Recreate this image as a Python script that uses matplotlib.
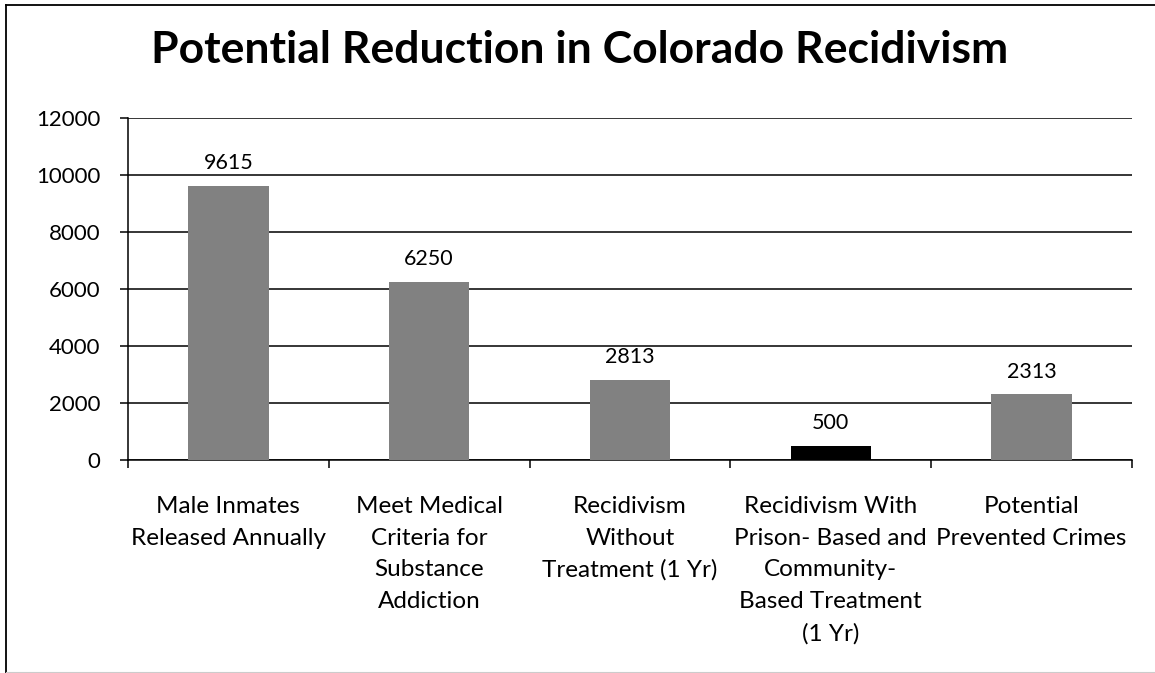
import matplotlib
matplotlib.use("Agg")
import matplotlib.pyplot as plt
from matplotlib.lines import Line2D

plt.rcParams['font.family'] = ['Lato', 'DejaVu Sans']

categories = [
    "Male Inmates\nReleased Annually",
    "Meet Medical\nCriteria for\nSubstance\nAddiction",
    "Recidivism\nWithout\nTreatment (1 Yr)",
    "Recidivism With\nPrison- Based and\nCommunity-\nBased Treatment\n(1 Yr)",
    "Potential\nPrevented Crimes",
]
values = [9615, 6250, 2813, 500, 2313]
bar_colors = ["#818181", "#818181", "#818181", "#000000", "#818181"]
y_ticks = [0, 2000, 4000, 6000, 8000, 10000, 12000]

fig = plt.figure(figsize=(11.55, 6.73), dpi=100)
ax = fig.add_axes([0.1108, 0.3165, 0.8692, 0.5082])

# chart frame edges (top and left)
fig.lines.append(Line2D([0.0055, 0.0055], [0.0, 0.9925], transform=fig.transFigure,
                        color="black", linewidth=1.3))
fig.lines.append(Line2D([0.0055, 1.0], [0.9925, 0.9925], transform=fig.transFigure,
                        color="black", linewidth=1.3))
fig.lines.append(Line2D([0.0055, 1.0], [0.0015, 0.0015], transform=fig.transFigure,
                        color="#cccccc", linewidth=0.8))

x = list(range(len(values)))
ax.bar(x, values, width=0.4, color=bar_colors, zorder=3)
for xi, v in zip(x, values):
    ax.annotate(str(v), (xi, v), xytext=(0, 9), textcoords="offset points",
                ha="center", va="bottom", fontsize=15.5, zorder=4)

ax.set_xlim(-0.5, len(values) - 0.5)
ax.set_ylim(0, 12000)
ax.set_yticks(y_ticks)
ax.set_yticklabels([str(t) for t in y_ticks], fontsize=16)
ax.yaxis.grid(True, color="black", linewidth=1.1, zorder=1)
ax.set_axisbelow(True)

ax.set_xticks([i + 0.5 for i in range(-1, len(values))])
ax.set_xticklabels([])
ax.set_xticks(x, minor=True)
ax.set_xticklabels(categories, minor=True, fontsize=17.5, linespacing=1.62, va="top")
ax.tick_params(axis="x", which="minor", length=0, pad=26)
ax.tick_params(axis="x", which="major", length=6, width=1.1, direction="out")
ax.tick_params(axis="y", length=6, width=1.1, direction="out", pad=14)

for side in ["top", "right"]:
    ax.spines[side].set_visible(False)
ax.spines["left"].set_linewidth(1.1)
ax.spines["bottom"].set_linewidth(1.1)

fig.text(0.502, 0.926, "Potential Reduction in Colorado Recidivism", ha="center", va="center",
         fontsize=32, fontweight="bold")

fig.savefig("out.png", dpi=100, facecolor="white")
